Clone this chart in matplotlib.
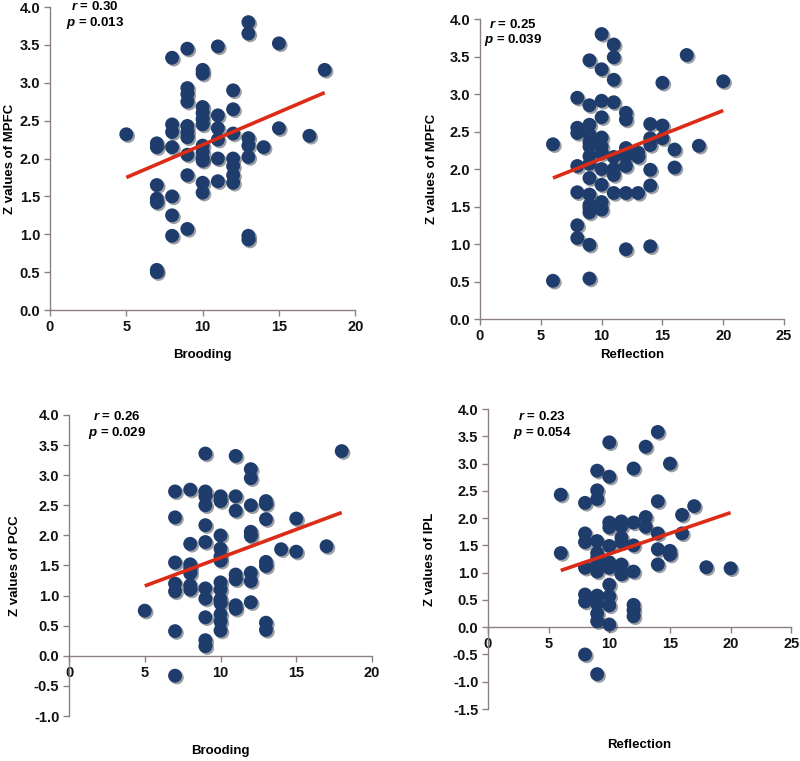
import numpy as np
import matplotlib
matplotlib.use("Agg")
import matplotlib.pyplot as plt
import matplotlib.patheffects as pe

plt.rcParams['font.family'] = ['Liberation Sans', 'DejaVu Sans']
plt.rcParams['font.weight'] = 'bold'
plt.rcParams['mathtext.fontset'] = 'custom'
plt.rcParams['mathtext.it'] = 'Liberation Sans:italic:bold'
plt.rcParams['mathtext.rm'] = 'Liberation Sans:bold'

# ---- data ----
# panel A: Brooding vs MPFC
brood_mpfc_x = [5, 7, 7, 7, 7, 7, 7, 7,
                8, 8, 8, 8, 8, 8, 8,
                9, 9, 9, 9, 9, 9, 9, 9, 9, 9,
                10, 10, 10, 10, 10, 10, 10, 10, 10, 10, 10, 10,
                11, 11, 11, 11, 11, 11,
                12, 12, 12, 12, 12, 12, 12,
                13, 13, 13, 13, 13, 13, 13,
                14, 15, 15, 17, 18]
brood_mpfc_y = [2.32, 2.20, 2.15, 1.65, 1.47, 1.42, 0.53, 0.50,
                3.33, 2.45, 2.35, 2.15, 1.50, 1.25, 0.98,
                3.45, 2.93, 2.85, 2.75, 2.43, 2.35, 2.28, 2.05, 1.78, 1.07,
                3.17, 3.12, 2.68, 2.60, 2.52, 2.45, 2.17, 2.08, 2.00, 1.97, 1.68, 1.55,
                3.48, 2.57, 2.40, 2.25, 2.00, 1.70,
                2.90, 2.65, 2.33, 2.00, 1.90, 1.78, 1.68,
                3.80, 3.65, 2.27, 2.17, 2.02, 0.98, 0.93,
                2.15, 3.52, 2.40, 2.30, 3.17]
brood_mpfc_fit_x = [5, 18]
brood_mpfc_fit_y = [1.75, 2.87]

# panel B: Reflection vs MPFC
refl_mpfc_x = [6, 6,
               8, 8, 8, 8, 8, 8, 8,
               9, 9, 9, 9, 9, 9, 9, 9, 9, 9, 9, 9, 9, 9, 9,
               10, 10, 10, 10, 10, 10, 10, 10, 10, 10, 10,
               11, 11, 11, 11, 11, 11, 11, 11,
               12, 12, 12, 12, 12, 12, 12,
               13, 13, 13,
               14, 14, 14, 14, 14, 14,
               15, 15, 15, 16, 16, 17, 18, 20]
refl_mpfc_y = [2.33, 0.51,
               2.95, 2.55, 2.48, 2.04, 1.69, 1.25, 1.08,
               3.45, 2.85, 2.59, 2.46, 2.36, 2.30, 2.17, 2.07, 1.88, 1.66, 1.52, 1.48, 1.42, 0.99, 0.54,
               3.80, 3.33, 2.91, 2.69, 2.42, 2.30, 2.21, 2.00, 1.79, 1.56, 1.46,
               3.66, 3.49, 3.19, 2.89, 2.16, 2.00, 1.92, 1.68,
               2.75, 2.66, 2.28, 2.17, 2.04, 1.68, 0.93,
               2.22, 2.16, 1.68,
               2.60, 2.41, 2.32, 1.99, 1.78, 0.97,
               3.15, 2.58, 2.41, 2.26, 2.02, 3.52, 2.31, 3.17]
refl_mpfc_fit_x = [6, 20]
refl_mpfc_fit_y = [1.88, 2.78]

# panel C: Brooding vs PCC
brood_pcc_x = [5,
               7, 7, 7, 7, 7, 7, 7,
               8, 8, 8, 8, 8, 8, 8,
               9, 9, 9, 9, 9, 9, 9, 9, 9, 9, 9,
               10, 10, 10, 10, 10, 10, 10, 10, 10, 10, 10, 10, 10,
               11, 11, 11, 11, 11, 11, 11,
               12, 12, 12, 12, 12, 12, 12, 12,
               13, 13, 13, 13, 13, 13, 13,
               14, 15, 15, 17, 18]
brood_pcc_y = [0.75,
               2.73, 2.30, 1.55, 1.20, 1.07, 0.41, -0.33,
               2.76, 1.86, 1.52, 1.45, 1.37, 1.17, 1.10,
               3.36, 2.73, 2.65, 2.50, 2.17, 1.89, 1.12, 0.95, 0.64, 0.26, 0.16,
               2.65, 2.57, 2.00, 1.78, 1.65, 1.58, 1.22, 1.10, 0.94, 0.87, 0.69, 0.57, 0.42,
               3.32, 2.65, 2.41, 1.35, 1.27, 0.84, 0.78,
               3.10, 2.95, 2.50, 2.06, 1.99, 1.38, 1.24, 0.89,
               2.57, 2.52, 2.27, 1.56, 1.49, 0.55, 0.43,
               1.77, 2.28, 1.73, 1.82, 3.40]
brood_pcc_fit_x = [5, 18]
brood_pcc_fit_y = [1.16, 2.38]

# panel D: Reflection vs IPL
refl_ipl_x = [6, 6,
              8, 8, 8, 8, 8, 8, 8,
              9, 9, 9, 9, 9, 9, 9, 9, 9, 9, 9, 9, 9,
              10, 10, 10, 10, 10, 10, 10, 10, 10, 10, 10,
              11, 11, 11, 11, 11, 11, 11,
              12, 12, 12, 12, 12, 12, 12,
              13, 13, 13,
              14, 14, 14, 14, 14,
              15, 15, 15, 16, 16, 17, 18, 20]
refl_ipl_y = [2.43, 1.36,
              2.28, 1.72, 1.56, 1.09, 0.60, 0.47, -0.50,
              2.87, 2.51, 2.35, 1.58, 1.36, 1.27, 1.16, 1.02, 0.58, 0.43, 0.25, 0.11, -0.86,
              3.39, 2.76, 1.92, 1.83, 1.49, 1.19, 1.09, 0.78, 0.57, 0.40, 0.05,
              1.94, 1.85, 1.64, 1.56, 1.15, 1.01, 0.97,
              2.91, 1.92, 1.50, 1.02, 0.41, 0.31, 0.20,
              3.31, 2.02, 1.84,
              3.58, 2.31, 1.72, 1.43, 1.15,
              3.00, 1.40, 1.33, 2.06, 1.72, 2.22, 1.10, 1.08]
refl_ipl_fit_x = [6, 20]
refl_ipl_fit_y = [1.04, 2.10]

panels = [
    dict(x=brood_mpfc_x, y=brood_mpfc_y, fx=brood_mpfc_fit_x, fy=brood_mpfc_fit_y,
         xlabel='Brooding', ylabel='Z values of MPFC', r='0.30', p='0.013',
         rect=[0.0625, 0.5926, 0.3815, 0.3982], xlim=(0, 20), ylim=(0, 4),
         stat_xy=(95, 7), xlab_y=355, ylab_x=10),
    dict(x=refl_mpfc_x, y=refl_mpfc_y, fx=refl_mpfc_fit_x, fy=refl_mpfc_fit_y,
         xlabel='Reflection', ylabel='Z values of MPFC', r='0.25', p='0.039',
         rect=[0.60, 0.5808, 0.38, 0.3942], xlim=(0, 25), ylim=(0, 4),
         stat_xy=(513, 24), xlab_y=355, ylab_x=432),
    dict(x=brood_pcc_x, y=brood_pcc_y, fx=brood_pcc_fit_x, fy=brood_pcc_fit_y,
         xlabel='Brooding', ylabel='Z values of PCC', r='0.26', p='0.029',
         rect=[0.08625, 0.0591, 0.37875, 0.3956], xlim=(0, 20), ylim=(-1, 4),
         stat_xy=(117, 417), xlab_y=751, ylab_x=15),
    dict(x=refl_ipl_x, y=refl_ipl_y, fx=refl_ipl_fit_x, fy=refl_ipl_fit_y,
         xlabel='Reflection', ylabel='Z values of IPL', r='0.23', p='0.054',
         rect=[0.61, 0.0683, 0.379, 0.3942], xlim=(0, 25), ylim=(-1.5, 4),
         stat_xy=(542, 417), xlab_y=745, ylab_x=430),
]

W, H = 800, 761
fig = plt.figure(figsize=(8, 7.61), dpi=100)
dot_color = '#1f3d6c'
line_color = '#dc2b17'
spine_color = '#8c8080'

for p in panels:
    ax = fig.add_axes(p['rect'])
    sc = ax.scatter(p['x'], p['y'], s=100, color=dot_color, zorder=3, linewidths=0)
    sc.set_path_effects([pe.SimplePatchShadow(offset=(1.3, -1.3), alpha=0.4), pe.Normal()])
    ax.plot(p['fx'], p['fy'], color=line_color, lw=2.6, zorder=4, solid_capstyle='butt')
    ax.set_xlim(*p['xlim'])
    ax.set_ylim(*p['ylim'])
    ax.set_xticks(np.arange(p['xlim'][0], p['xlim'][1] + 1, 5))
    ax.set_yticks(np.arange(p['ylim'][0], p['ylim'][1] + 0.01, 0.5))
    ax.yaxis.set_major_formatter(matplotlib.ticker.FormatStrFormatter('%.1f'))
    for s in ['top', 'right']:
        ax.spines[s].set_visible(False)
    for s in ['left', 'bottom']:
        ax.spines[s].set_color(spine_color)
        ax.spines[s].set_linewidth(1.0)
    ax.spines['bottom'].set_position(('data', 0))
    ax.tick_params(direction='out', length=4, width=1, color=spine_color,
                   labelsize=10.5, pad=3, labelcolor='#111111')
    ax.patch.set_visible(False)

    sx, sy = p['stat_xy']
    fig.text(sx / W, 1 - sy / H, r'$r$ = ' + p['r'], ha='center', va='center',
             fontsize=9.5, fontweight='bold')
    fig.text(sx / W, 1 - (sy + 16) / H, r'$p$ = ' + p['p'], ha='center', va='center',
             fontsize=9.5, fontweight='bold')

    l, b, w, h = p['rect']
    fig.text(l + w / 2, 1 - p['xlab_y'] / H, p['xlabel'], ha='center', va='center',
             fontsize=9.5, fontweight='bold')
    fig.text(p['ylab_x'] / W, b + h / 2, p['ylabel'], ha='center', va='center',
             rotation=90, fontsize=9.5, fontweight='bold')

fig.savefig('out.png', dpi=100, facecolor='white')
